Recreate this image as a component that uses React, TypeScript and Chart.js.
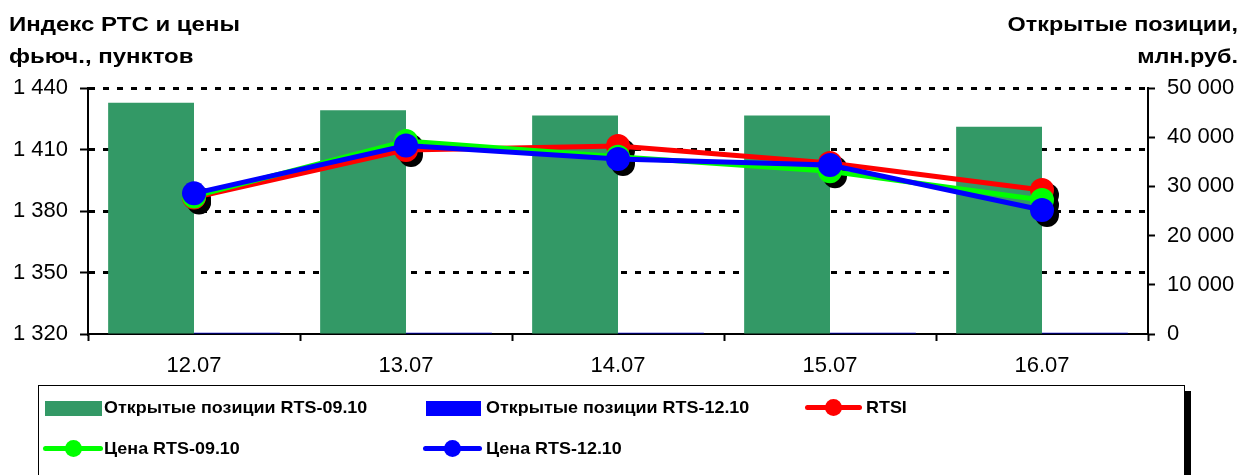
import React, { useEffect, useRef } from "react";
import { Chart, registerables } from "chart.js";

Chart.register(...registerables);

const categories = ["12.07", "13.07", "14.07", "15.07", "16.07"];
const oiRts0910 = [47000, 45500, 44400, 44400, 42100];
const oiRts1210 = [250, 250, 250, 250, 250];
const rtsi = [1386.6, 1409.8, 1411.7, 1403.4, 1390.2];
const priceRts0910 = [1387.1, 1414.1, 1406.5, 1399.4, 1385.4];
const priceRts1210 = [1388.6, 1411.9, 1405.4, 1402.4, 1380.5];

const leftTicks = [1320, 1350, 1380, 1410, 1440];
const rightTicks = [0, 10000, 20000, 30000, 40000, 50000];

const FONT = "'Liberation Sans', Arial, sans-serif";
const fmt = (v: number) => String(Math.round(v)).replace(/\B(?=(\d{3})+(?!\d))/g, " ");

const shadowPlugin = {
  id: "markerShadows",
  beforeDatasetDraw(chart: any, args: any) {
    if (args.index !== 2) return;
    const ctx = chart.ctx;
    ctx.save();
    ctx.fillStyle = "#000";
    [2, 3, 4].forEach((di) => {
      const meta = chart.getDatasetMeta(di);
      meta.data.forEach((pt: any) => {
        ctx.beginPath();
        ctx.arc(pt.x + 5, pt.y + 5, 12, 0, Math.PI * 2);
        ctx.fill();
      });
    });
    ctx.restore();
  },
};

export default function App() {
  const ref = useRef<HTMLCanvasElement>(null);
  useEffect(() => {
    const lineDs = (label: string, data: number[], color: string, order: number) => ({
      type: "line" as const,
      label,
      data,
      borderColor: color,
      backgroundColor: color,
      borderWidth: 5,
      pointRadius: 12,
      pointBorderWidth: 0,
      pointBackgroundColor: color,
      yAxisID: "y",
      order,
      tension: 0,
    });
    const chart = new Chart(ref.current!, {
      type: "bar",
      data: {
        labels: categories,
        datasets: [
          {
            label: "Открытые позиции RTS-09.10",
            data: oiRts0910,
            backgroundColor: "#339966",
            yAxisID: "y1",
            order: 10,
            categoryPercentage: 0.81,
            barPercentage: 1,
          } as any,
          {
            label: "Открытые позиции RTS-12.10",
            data: oiRts1210,
            backgroundColor: "#0000CC",
            yAxisID: "y1",
            order: 10,
            categoryPercentage: 0.81,
            barPercentage: 1,
          },
          lineDs("RTSI", rtsi, "#FF0000", 3),
          lineDs("Цена RTS-09.10", priceRts0910, "#00FF00", 2),
          lineDs("Цена RTS-12.10", priceRts1210, "#0000FF", 1),
        ],
      },
      options: {
        animation: false,
        responsive: false,
        maintainAspectRatio: false,
        layout: { padding: { top: 88, left: 0, right: 0, bottom: 0 } },
        plugins: { legend: { display: false }, tooltip: { enabled: false } },
        scales: {
          x: {
            grid: {
              offset: true,
              drawOnChartArea: false,
              tickLength: 7,
              tickWidth: 2,
              tickColor: "#000",
            },
            border: { display: true, color: "#000", width: 2 },
            ticks: { color: "#000", font: { family: FONT, size: 22 }, padding: 12 },
            afterFit: (s: any) => {
              s.height = 141;
            },
          },
          y: {
            position: "left",
            min: 1320,
            max: 1440,
            afterBuildTicks: (s: any) => {
              s.ticks = leftTicks.map((v) => ({ value: v }));
            },
            grid: {
              color: (c: any) => (c.tick && c.tick.value === 1320 ? "rgba(0,0,0,0)" : "#000"),
              lineWidth: 3,
              tickLength: 8,
              tickWidth: 2,
              tickColor: "#000",
            },
            border: { display: true, color: "#000", width: 2, dash: [6, 8] },
            ticks: {
              color: "#000",
              font: { family: FONT, size: 22 },
              padding: 12,
              callback: (v: any) => fmt(Number(v)),
            },
            afterFit: (s: any) => {
              s.width = 88;
            },
          },
          y1: {
            position: "right",
            min: 0,
            max: 50000,
            afterBuildTicks: (s: any) => {
              s.ticks = rightTicks.map((v) => ({ value: v }));
            },
            grid: {
              drawOnChartArea: false,
              tickLength: 7,
              tickWidth: 2,
              tickColor: "#000",
            },
            border: { display: true, color: "#000", width: 2 },
            ticks: {
              color: "#000",
              font: { family: FONT, size: 22 },
              padding: 12,
              callback: (v: any) => fmt(Number(v)),
            },
            afterFit: (s: any) => {
              s.width = 95;
            },
          },
        },
      } as any,
      plugins: [shadowPlugin],
    });
    return () => chart.destroy();
  }, []);

  const titleStyle: React.CSSProperties = {
    position: "absolute",
    fontFamily: FONT,
    fontWeight: "bold",
    fontSize: 20,
    lineHeight: "32px",
    color: "#000",
    whiteSpace: "nowrap",
  };
  const legText: React.CSSProperties = {
    position: "absolute",
    fontFamily: FONT,
    fontWeight: "bold",
    fontSize: 17,
    lineHeight: "20px",
    color: "#000",
    whiteSpace: "nowrap",
    transform: "scaleX(1.055)",
    transformOrigin: "left center",
  };
  const lineMarker = (left: number, width: number, top: number, color: string) => (
    <>
      <div style={{ position: "absolute", left, top: top - 2.5, width, height: 5, background: color, borderRadius: 3 }} />
      <div
        style={{
          position: "absolute",
          left: left + width / 2 - 8.5,
          top: top - 8.5,
          width: 17,
          height: 17,
          borderRadius: "50%",
          background: color,
        }}
      />
    </>
  );

  return (
    <div style={{ position: "fixed", left: 0, top: 0, width: 1243, height: 475, background: "#fff", overflow: "hidden" }}>
      <canvas ref={ref} width={1243} height={475} style={{ position: "absolute", left: 0, top: 0, width: 1243, height: 475 }} />
      <div style={{ ...titleStyle, left: 9, top: 8, transform: "scaleX(1.2)", transformOrigin: "left top" }}>
        Индекс РТС и цены
        <br />
        фьюч., пунктов
      </div>
      <div style={{ ...titleStyle, right: 5, top: 8, textAlign: "right", transform: "scaleX(1.17)", transformOrigin: "right top" }}>
        Открытые позиции,
        <br />
        млн.руб.
      </div>
      <div
        style={{
          position: "absolute",
          left: 38,
          top: 385,
          width: 1147,
          height: 120,
          border: "1px solid #000",
          boxSizing: "border-box",
          boxShadow: "6px 6px 0 #000",
          background: "#fff",
        }}
      />
      <div style={{ position: "absolute", left: 45, top: 401, width: 57, height: 15, background: "#339966" }} />
      <div style={{ ...legText, left: 104, top: 398 }}>Открытые позиции RTS-09.10</div>
      <div style={{ position: "absolute", left: 426, top: 401, width: 55, height: 15, background: "#0000FF" }} />
      <div style={{ ...legText, left: 486, top: 398 }}>Открытые позиции RTS-12.10</div>
      {lineMarker(805, 57, 407, "#FF0000")}
      <div style={{ ...legText, left: 866, top: 398 }}>RTSI</div>
      {lineMarker(43, 60, 448, "#00FF00")}
      <div style={{ ...legText, left: 104, top: 439 }}>Цена RTS-09.10</div>
      {lineMarker(423, 59, 448, "#0000FF")}
      <div style={{ ...legText, left: 486, top: 439 }}>Цена RTS-12.10</div>
    </div>
  );
}
